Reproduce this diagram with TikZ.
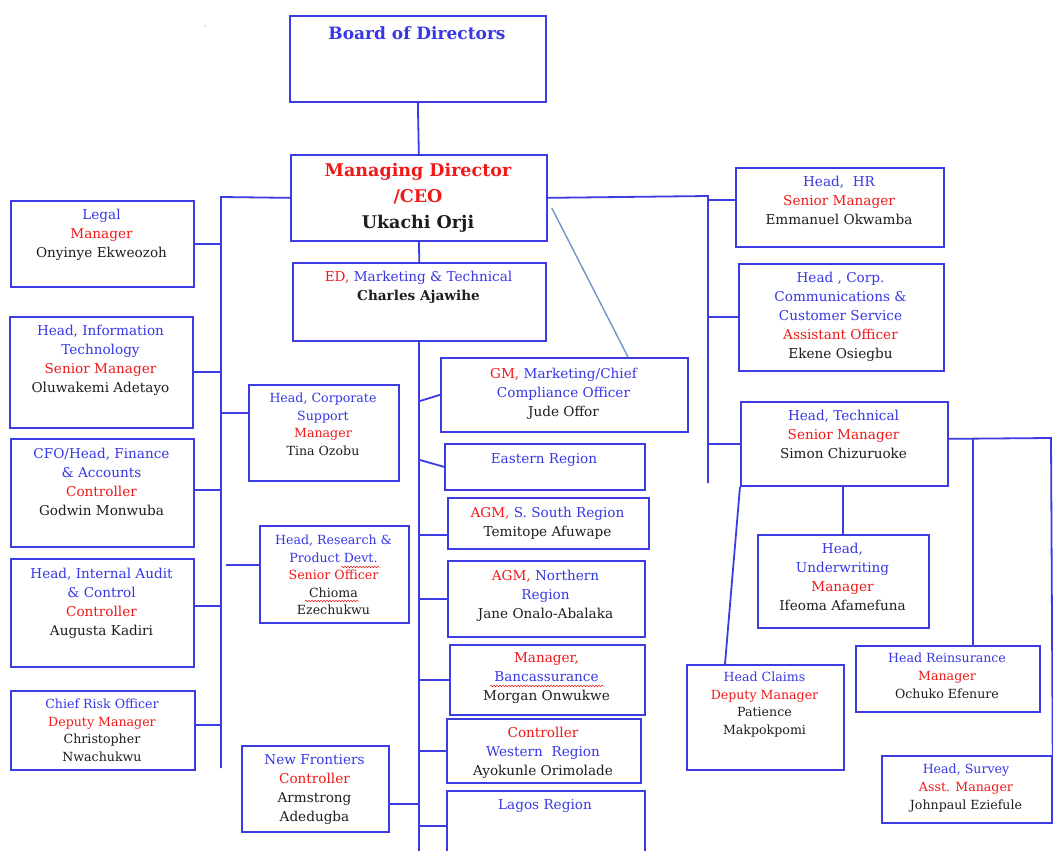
\documentclass[tikz,border=0pt]{standalone}
\usepackage{fontspec}
\setmainfont{DejaVu Serif}
\usetikzlibrary{calc,decorations.pathmorphing}
\definecolor{bx}{RGB}{60,60,225}
\definecolor{tb}{RGB}{55,55,230}
\definecolor{tred}{RGB}{240,25,25}
\definecolor{tk}{RGB}{30,30,30}
\definecolor{sl}{RGB}{110,150,200}
\newcommand\rr[1]{\textcolor{tred}{#1}}
\newcommand\kk[1]{\textcolor{tk}{#1}}
\tikzset{
 box/.style={draw=bx, line width=1.7pt, inner sep=0pt, anchor=north west},
 txt/.style={anchor=north, inner sep=0pt, align=center, text=tb, font=\fontsize{13.6}{19}\selectfont},
 stxt/.style={txt, font=\fontsize{12.6}{17.5}\selectfont},
 conn/.style={draw=bx, line width=1.8pt},
 slantconn/.style={draw=sl, line width=1.4pt},
 squig/.style={draw=tred, line width=0.5pt, decorate, decoration={snake, amplitude=0.8pt, segment length=3pt}},
}
\newcommand\orgbox[8][txt]{%
 \node[box, minimum width={(#5-#3)*1pt}, minimum height={(#6-#4)*1pt}] (#2) at (#3,#4) {};
 \node[#1] (#2t) at ({(#3+#5)/2},#7) {#8};
}
\begin{document}
\begin{tikzpicture}[x=1pt,y=-1pt]
\fill[white] (0,0) rectangle (1053,851);
\useasboundingbox (0,0) rectangle (1053,851);
\clip (0,0) rectangle (1053,851);
\fill[gray] (205,26) circle (0.7);

% top
\orgbox[txt,font=\fontsize{17}{22}\selectfont\bfseries]{board}{289}{15}{545}{101}{26}{Board of Directors}
\orgbox[txt,font=\fontsize{17.5}{26}\selectfont\bfseries]{ceo}{290}{154}{546}{240}{163}{\rr{Managing Director}\\\rr{/CEO}\\\kk{Ukachi Orji}}
\orgbox{ed}{292}{262}{545}{340}{271}{\rr{ED,} Marketing \& Technical\\\kk{\textbf{Charles Ajawihe}}}

% left column
\orgbox{legal}{10}{200}{193}{286}{209}{Legal\\\rr{Manager}\\\kk{Onyinye Ekweozoh}}
\orgbox{it}{9}{316}{192}{427}{325}{Head, Information\\Technology\\\rr{Senior Manager}\\\kk{Oluwakemi Adetayo}}
\orgbox{cfo}{10}{438}{193}{546}{448}{CFO/Head, Finance\\\& Accounts\\\rr{Controller}\\\kk{Godwin Monwuba}}
\orgbox{audit}{10}{558}{193}{666}{568}{Head, Internal Audit\\\& Control\\\rr{Controller}\\\kk{Augusta Kadiri}}
\orgbox[stxt]{risk}{10}{690}{194}{769}{699}{Chief Risk Officer\\\rr{Deputy Manager}\\\kk{Christopher}\\\kk{Nwachukwu}}

% middle column
\orgbox[stxt]{cs}{248}{384}{398}{480}{393}{Head, Corporate\\Support\\\rr{Manager}\\\kk{Tina Ozobu}}
\orgbox[stxt]{rd}{259}{525}{408}{622}{535}{Head, Research \&\\Product Devt.\\\rr{Senior Officer}\\\kk{Chioma}\\\kk{Ezechukwu}}
\orgbox{nf}{241}{745}{388}{831}{754}{New Frontiers\\\rr{Controller}\\\kk{Armstrong}\\\kk{Adedugba}}

% regions column
\orgbox{gm}{440}{357}{687}{431}{368}{\rr{GM,} Marketing/Chief\\Compliance Officer\\\kk{Jude Offor}}
\orgbox{east}{444}{443}{644}{489}{453}{Eastern Region}
\orgbox{ss}{447}{497}{648}{548}{507}{\rr{AGM,} S. South Region\\\kk{Temitope Afuwape}}
\orgbox{nreg}{447}{560}{644}{636}{570}{\rr{AGM,} Northern\\Region\\\kk{Jane Onalo-Abalaka}}
\orgbox{banc}{449}{644}{644}{714}{652}{\rr{Manager,}\\Bancassurance\\\kk{Morgan Onwukwe}}
\orgbox{wreg}{446}{718}{640}{782}{727}{\rr{Controller}\\Western~~Region\\\kk{Ayokunle Orimolade}}
\orgbox{lagos}{446}{790}{644}{870}{799}{Lagos Region}

% right column
\orgbox{hr}{735}{167}{943}{246}{176}{Head,~~HR\\\rr{Senior Manager}\\\kk{Emmanuel Okwamba}}
\orgbox{cc}{738}{263}{943}{370}{272}{Head , Corp.\\Communications \&\\Customer Service\\\rr{Assistant Officer}\\\kk{Ekene Osiegbu}}
\orgbox{tech}{740}{401}{947}{485}{410}{Head, Technical\\\rr{Senior Manager}\\\kk{Simon Chizuruoke}}
\orgbox{uw}{757}{534}{928}{627}{543}{Head,\\Underwriting\\\rr{Manager}\\\kk{Ifeoma Afamefuna}}
\orgbox[stxt]{claims}{686}{664}{843}{769}{672}{Head Claims\\\rr{Deputy Manager}\\\kk{Patience}\\\kk{Makpokpomi}}
\orgbox[stxt,font=\fontsize{12.6}{18}\selectfont]{rein}{855}{645}{1039}{711}{653}{Head Reinsurance\\\rr{Manager}\\\kk{Ochuko Efenure}}
\orgbox[stxt,font=\fontsize{12.6}{18}\selectfont]{survey}{881}{755}{1051}{822}{764}{Head, Survey\\\rr{Asst. Manager}\\\kk{Johnpaul Eziefule}}

% spell-check squiggles
\draw[squig] (341,567) -- (380,567);
\draw[squig] (305,601) -- (359,601);
\draw[squig] (490,686) -- (604,686);

% connectors: top
\draw[conn] (board.south) -- (ceo.north);
\draw[conn] (ceo.south) -- (ed.north);

% left trunk
\coordinate (lt) at (221,197);
\coordinate (lb) at (221,768);
\coordinate (lt2) at (226,197);
\draw[conn] (ceo.west) -- (lt) -- (lb);
\draw[conn] (legal.east) -- (legal.east -| lt);
\draw[conn] (it.east) -- (it.east -| lt);
\coordinate (cfoc) at ([yshift=3pt]cfo.east);
\draw[conn] (cfoc) -- (cfoc -| lt);
\coordinate (auc) at ([yshift=7pt]audit.east);
\draw[conn] (auc) -- (auc -| lt);
\coordinate (rkc) at ([yshift=5pt]risk.east);
\draw[conn] (rkc) -- (rkc -| lt);
\coordinate (csc) at ([yshift=20pt]cs.west);
\draw[conn] (csc) -- (csc -| lt);
\coordinate (rdc) at ([yshift=9pt]rd.west);
\draw[conn] (rdc) -- (rdc -| lt2);

% ED trunk
\coordinate (eb) at (418,870);
\coordinate (et) at (418,340);
\draw[conn] (ed.south) -- (ed.south |- eb);
\coordinate (gmc) at (420,401);
\draw[conn] (gmc) -- (gm.west);
\coordinate (eac) at (420,460);
\draw[conn] (eac) -- (east.west);
\coordinate (ssc) at ([yshift=-11.5pt]ss.west);
\draw[conn] (ssc) -- (ssc -| et);
\foreach \b in {nreg,banc,wreg} {\draw[conn] (\b.west) -- (\b.west -| et);}
\coordinate (lgc) at ([yshift=-36pt]lagos.north west);
\draw[conn] (lgc) -- (lgc -| et);
\coordinate (nfc) at ([yshift=-15pt]nf.east);
\draw[conn] (nfc) -- (nfc -| et);

% CEO to GM slant
\coordinate (ceos) at ([xshift=4pt,yshift=-10pt]ceo.east);
\coordinate (gmt) at ([xshift=188pt]gm.north west);
\draw[slantconn] (ceos) -- (gmt);

% right trunk
\coordinate (rt) at (708,196);
\coordinate (rb) at (708,483);
\draw[conn] (ceo.east) -- (rt) -- (rb);
\coordinate (hrc) at ([yshift=7pt]hr.west);
\draw[conn] (hrc) -- (hrc -| rt);
\draw[conn] (cc.west) -- (cc.west -| rt);
\draw[conn] (tech.west) -- (tech.west -| rt);

% technical subtree
\coordinate (tc) at ([yshift=5pt]tech.east);
\coordinate (tcr) at (1051,438);
\coordinate (tcm) at (973,438);
\draw[conn] (tc) -- (tcr) -- (survey.north east);
\draw[conn] (tcm) -- (tcm |- rein.north);
\draw[conn] (tech.south -| uw.north) -- (uw.north);
\coordinate (clc) at ([xshift=39pt]claims.north west);
\draw[conn] (tech.south west) -- (clc);
\end{tikzpicture}
\end{document}
